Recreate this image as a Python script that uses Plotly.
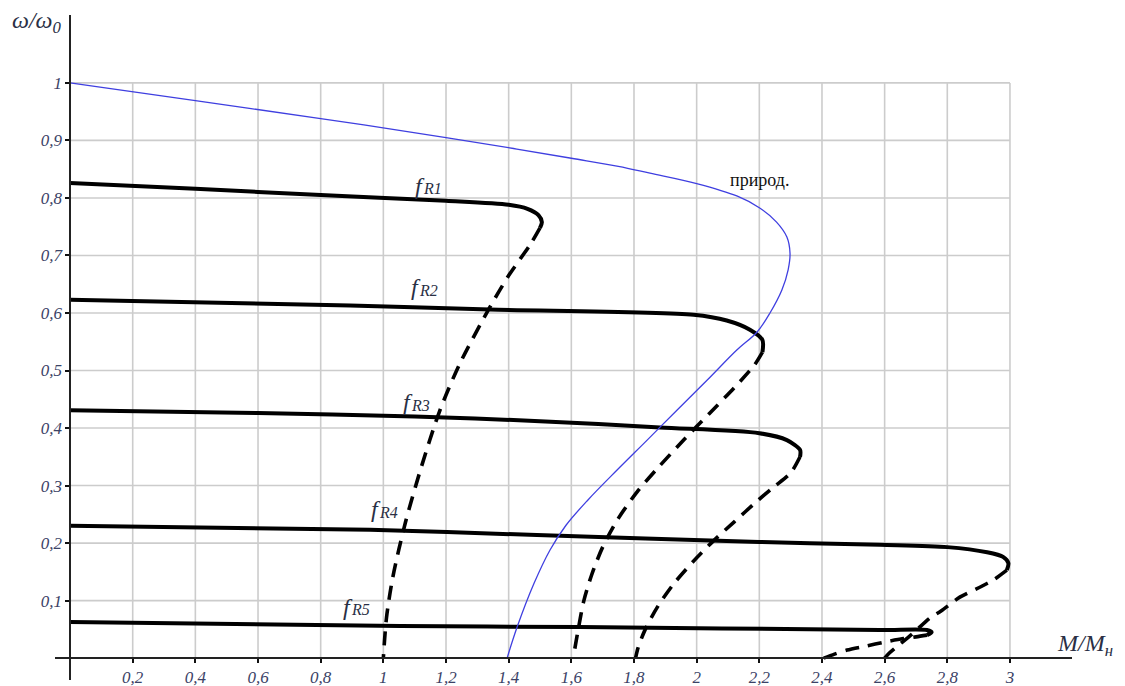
import plotly.graph_objects as go

# Natural (blue) mechanical characteristic  M/Mn vs w/w0
nat_m = [0.0, 0.4, 0.8, 1.2, 1.426, 1.6, 1.75, 1.851, 2.0, 2.13, 2.2, 2.255, 2.288, 2.298,
         2.292, 2.272, 2.234, 2.193, 2.129, 2.033, 1.937, 1.842, 1.746, 1.653, 1.583,
         1.532, 1.481, 1.427, 1.395]
nat_w = [1.0, 0.969, 0.938, 0.905, 0.885, 0.869, 0.855, 0.843, 0.825, 0.803, 0.783, 0.758, 0.732,
         0.704, 0.675, 0.64, 0.6, 0.567, 0.536, 0.483, 0.431, 0.379, 0.327, 0.275, 0.231,
         0.188, 0.13, 0.054, 0.0]

# Frequency-controlled characteristics: stable (solid) and unstable (dashed) parts
fr1_solid_m = [0.0, 0.4, 0.8, 1.2, 1.4, 1.46, 1.495, 1.506, 1.5]
fr1_solid_w = [0.826, 0.816, 0.805, 0.795, 0.788, 0.781, 0.77, 0.758, 0.748]
fr1_dash_m = [1.5, 1.47, 1.40, 1.34, 1.245, 1.18, 1.12, 1.07, 1.03, 1.01, 1.0]
fr1_dash_w = [0.748, 0.72, 0.665, 0.61, 0.513, 0.43, 0.33, 0.235, 0.14, 0.07, 0.0]

fr2_solid_m = [0.0, 0.894, 1.34, 1.99, 2.096, 2.17, 2.21, 2.21]
fr2_solid_w = [0.623, 0.613, 0.606, 0.597, 0.587, 0.571, 0.553, 0.532]
fr2_dash_m = [2.21, 2.185, 2.12, 2.04, 1.96, 1.88, 1.81, 1.75, 1.70, 1.665, 1.64, 1.622, 1.606]
fr2_dash_w = [0.532, 0.51, 0.47, 0.425, 0.38, 0.333, 0.289, 0.243, 0.193, 0.145, 0.1, 0.05, 0.0]

fr3_solid_m = [0.0, 0.6, 1.1, 1.5, 1.883, 2.2, 2.288, 2.33, 2.33]
fr3_solid_w = [0.431, 0.426, 0.42, 0.412, 0.401, 0.391, 0.379, 0.362, 0.35]
fr3_dash_m = [2.33, 2.30, 2.245, 2.193, 2.12, 2.052, 1.989, 1.928, 1.876, 1.836, 1.813, 1.805]
fr3_dash_w = [0.35, 0.322, 0.297, 0.273, 0.237, 0.203, 0.168, 0.13, 0.09, 0.05, 0.018, 0.0]

fr4_solid_m = [0.0, 0.957, 1.49, 2.2, 2.585, 2.8, 2.927, 2.978, 2.995, 2.99]
fr4_solid_w = [0.23, 0.223, 0.214, 0.202, 0.197, 0.193, 0.184, 0.176, 0.165, 0.153]
fr4_dash_m = [2.99, 2.95, 2.91, 2.84, 2.78, 2.745, 2.69, 2.65, 2.615, 2.6]
fr4_dash_w = [0.153, 0.137, 0.125, 0.106, 0.082, 0.07, 0.043, 0.025, 0.009, 0.0]

fr5_solid_m = [0.0, 1.053, 1.628, 2.585, 2.735, 2.75, 2.735]
fr5_solid_w = [0.063, 0.056, 0.054, 0.049, 0.049, 0.045, 0.04]
fr5_dash_m = [2.735, 2.70, 2.66, 2.6, 2.54, 2.48, 2.44, 2.405]
fr5_dash_w = [0.04, 0.037, 0.034, 0.028, 0.021, 0.014, 0.007, 0.0]

# Axis ticks
x_ticks = [0.2, 0.4, 0.6, 0.8, 1.0, 1.2, 1.4, 1.6, 1.8, 2.0, 2.2, 2.4, 2.6, 2.8, 3.0]
x_tick_text = ["0,2", "0,4", "0,6", "0,8", "1", "1,2", "1,4", "1,6", "1,8", "2",
               "2,2", "2,4", "2,6", "2,8", "3"]
y_ticks = [0.1, 0.2, 0.3, 0.4, 0.5, 0.6, 0.7, 0.8, 0.9, 1.0]
y_tick_text = ["0,1", "0,2", "0,3", "0,4", "0,5", "0,6", "0,7", "0,8", "0,9", "1"]

# Curve labels (position of the letter f) and their indices
label_m = [1.117, 1.104, 1.079, 0.977, 0.887]
label_w = [0.821, 0.645, 0.445, 0.259, 0.089]
label_idx = ["R1", "R2", "R3", "R4", "R5"]

X_RANGE = [-0.048, 3.198]
Y_RANGE = [-0.038, 1.118]
GRID_M_MAX = 3.0
GRID_W_MAX = 1.0

fig = go.Figure()

solid_style = dict(color="black", width=4, shape="spline", smoothing=0.8)
dash_style = dict(color="black", width=3.6, dash="14px,9px", shape="spline", smoothing=0.8)

curves = [
    (fr1_solid_m, fr1_solid_w, fr1_dash_m, fr1_dash_w),
    (fr2_solid_m, fr2_solid_w, fr2_dash_m, fr2_dash_w),
    (fr3_solid_m, fr3_solid_w, fr3_dash_m, fr3_dash_w),
    (fr4_solid_m, fr4_solid_w, fr4_dash_m, fr4_dash_w),
    (fr5_solid_m, fr5_solid_w, fr5_dash_m, fr5_dash_w),
]
for sm, sw, dm, dw in curves:
    fig.add_trace(go.Scatter(x=sm, y=sw, mode="lines", line=solid_style,
                             showlegend=False, hoverinfo="skip"))
    fig.add_trace(go.Scatter(x=dm, y=dw, mode="lines", line=dash_style,
                             showlegend=False, hoverinfo="skip"))

fig.add_trace(go.Scatter(x=nat_m, y=nat_w, mode="lines",
                         line=dict(color="#3f3fe0", width=1.3, shape="spline", smoothing=1.0),
                         showlegend=False, hoverinfo="skip"))

# Grid limited to the data field
grid_color = "#cccccc"
for xv in x_ticks:
    fig.add_shape(type="line", x0=xv, x1=xv, y0=0, y1=GRID_W_MAX, layer="below",
                  line=dict(color=grid_color, width=1.6))
for yv in y_ticks:
    fig.add_shape(type="line", x0=0, x1=GRID_M_MAX, y0=yv, y1=yv, layer="below",
                  line=dict(color=grid_color, width=1.6))

tick_font = dict(family="Liberation Serif", size=17, color="#3b4266", style="italic")

y_pos = (0 - X_RANGE[0]) / (X_RANGE[1] - X_RANGE[0])
x_pos = (0 - Y_RANGE[0]) / (Y_RANGE[1] - Y_RANGE[0])

fig.update_layout(
    width=1125, height=686,
    margin=dict(l=55, r=53, t=15, b=6),
    paper_bgcolor="white", plot_bgcolor="white",
    xaxis=dict(range=X_RANGE, showgrid=False, zeroline=False, showline=True,
               linecolor="#222222", linewidth=1.5, anchor="free", position=x_pos,
               automargin=False,
               tickvals=x_ticks, ticktext=x_tick_text, ticks="outside", ticklen=4,
               tickwidth=2, tickcolor="#111111", tickfont=tick_font),
    yaxis=dict(range=Y_RANGE, showgrid=False, zeroline=False, showline=True,
               linecolor="#222222", linewidth=1.5, anchor="free", position=y_pos,
               automargin=False,
               tickvals=y_ticks, ticktext=y_tick_text, ticks="outside", ticklen=4,
               tickwidth=2, tickcolor="#111111", tickfont=tick_font),
)

label_color = "#2a2f45"
for m, w, idx in zip(label_m, label_w, label_idx):
    fig.add_annotation(x=m, y=w, xref="x", yref="y", showarrow=False,
                       xanchor="center", yanchor="middle", text="<i>f</i>",
                       font=dict(family="Liberation Serif", size=24, color=label_color))
    fig.add_annotation(x=m, y=w, xref="x", yref="y", showarrow=False,
                       xanchor="left", yanchor="middle", xshift=1, yshift=-3,
                       text=f"<i>{idx}</i>",
                       font=dict(family="Liberation Serif", size=16, color=label_color))

fig.add_annotation(x=2.2, y=0.831, xref="x", yref="y", showarrow=False,
                   xanchor="center", yanchor="middle", text="природ.",
                   font=dict(family="Liberation Serif", size=18, color="#111111"))

# Axis titles
fig.add_annotation(x=-0.0177, y=0.989, xref="paper", yref="paper", showarrow=False,
                   xanchor="center", yanchor="middle",
                   text="<i>ω/ω<sub>0</sub></i>",
                   font=dict(family="Liberation Serif", size=24, color=label_color))
fig.add_annotation(x=1.0128, y=0.0526, xref="paper", yref="paper", showarrow=False,
                   xanchor="center", yanchor="middle",
                   text="<i>M/M<sub>н</sub></i>",
                   font=dict(family="Liberation Serif", size=24, color=label_color))

fig.write_html("out.html")
